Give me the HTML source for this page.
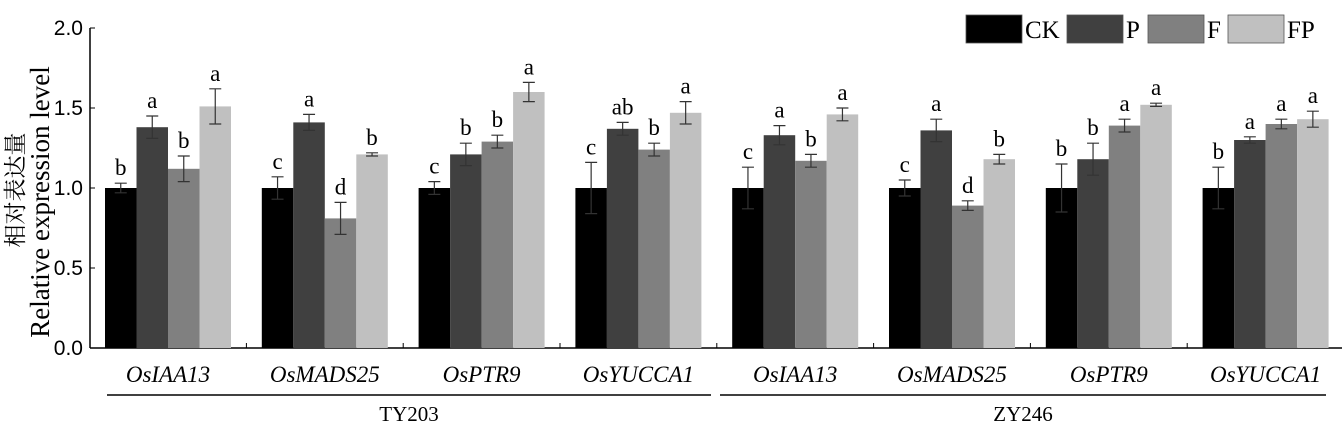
<!DOCTYPE html>
<html><head><meta charset="utf-8"><style>
body{margin:0;background:#fff}
svg text{font-family:"Liberation Serif","Noto Serif CJK SC",serif;fill:#000}
</style></head><body>
<svg id="c" width="1343" height="433" xmlns="http://www.w3.org/2000/svg"></svg>
<script>
const categories=["OsIAA13","OsMADS25","OsPTR9","OsYUCCA1","OsIAA13","OsMADS25","OsPTR9","OsYUCCA1"];
const seriesNames=["CK","P","F","FP"];
const ckVals=[1.0,1.0,1.0,1.0,1.0,1.0,1.0,1.0];
const pVals=[1.38,1.41,1.21,1.37,1.33,1.36,1.18,1.30];
const fVals=[1.12,0.81,1.29,1.24,1.17,0.89,1.39,1.40];
const fpVals=[1.51,1.21,1.60,1.47,1.46,1.18,1.52,1.43];
const ckErr=[0.03,0.07,0.04,0.16,0.13,0.05,0.15,0.13];
const pErr=[0.07,0.05,0.07,0.04,0.06,0.07,0.10,0.02];
const fErr=[0.08,0.10,0.04,0.04,0.04,0.03,0.04,0.03];
const fpErr=[0.11,0.01,0.06,0.07,0.04,0.03,0.01,0.05];
const ckSig=["b","c","c","c","c","c","b","b"];
const pSig=["a","a","b","ab","a","a","b","a"];
const fSig=["b","d","b","b","b","d","a","a"];
const fpSig=["a","b","a","a","a","b","a","a"];
const yTicks=[0.0,0.5,1.0,1.5,2.0];
const groups=["TY203","ZY246"];
const colors=["#000000","#404040","#808080","#c0c0c0"];
const NS="http://www.w3.org/2000/svg";
const svg=document.getElementById('c');
function el(t,a,txt){const e=document.createElementNS(NS,t);for(const k in a)e.setAttribute(k,a[k]);if(txt!==undefined)e.textContent=txt;svg.appendChild(e);return e;}
const y0=348,yTop=28,ymax=2.0,ax=90;
function yS(v){return y0-(v/ymax)*(y0-yTop);}
const bandStart=89.6,bandW=156.8,barW=31.5;
function xBar(g,s){return bandStart+g*bandW+bandW/2-2*barW+s*barW;}
const vals=[ckVals,pVals,fVals,fpVals],errs=[ckErr,pErr,fErr,fpErr],sigs=[ckSig,pSig,fSig,fpSig];
let a=el('line',{x1:ax,y1:y0,x2:1342,y2:y0,stroke:'#000','stroke-width':1.5});

a=el('line',{x1:ax,y1:yTop,x2:ax,y2:y0,stroke:'#000','stroke-width':1.5});

yTicks.forEach(t=>{const y=yS(t);
 let l=el('line',{x1:ax,y1:y,x2:ax+5,y2:y,stroke:'#000','stroke-width':1});
 
 let tx=el('text',{x:83,y:y+7,'text-anchor':'end','font-size':21,style:'font-family:"Liberation Sans",sans-serif'},t.toFixed(1));
 });
for(let g=1;g<categories.length;g++){const x=bandStart+g*bandW;
 let l=el('line',{x1:x,y1:y0,x2:x,y2:y0-5,stroke:'#000','stroke-width':1});
 }
for(let g=0;g<categories.length;g++){
 for(let s=0;s<4;s++){
  const v=vals[s][g],e=errs[s][g],x=xBar(g,s),y=yS(v);
  let r=el('rect',{x:x,y:y,width:barW,height:y0-y,fill:colors[s]});
  
  const cx=x+barW/2,yh=yS(v+e),yl=yS(v-e);
  let eb=el('path',{d:`M${cx},${yh}V${yl}M${cx-6},${yh}H${cx+6}M${cx-6},${yl}H${cx+6}`,stroke:'#333','stroke-width':1.2,fill:'none'});
  
  let st=el('text',{x:cx,y:yh-8,'text-anchor':'middle','font-size':23},sigs[s][g]);
  
 }
 let cl=el('text',{x:bandStart+g*bandW+bandW/2,y:382,'text-anchor':'middle','font-size':23,'font-style':'italic'},categories[g]);
 
}
groups.forEach((gname,i)=>{const x1=i?720:107,x2=i?1326:711;
 let l=el('line',{x1:x1,y1:395,x2:x2,y2:395,stroke:'#000','stroke-width':1.5});
 
 let t=el('text',{x:(x1+x2)/2,y:421,'text-anchor':'middle','font-size':21},gname);
 });
const lx=[966,1067,1148,1228];
seriesNames.forEach((n,i)=>{
 let r=el('rect',{x:lx[i],y:15,width:56,height:28,fill:colors[i],stroke:'#555','stroke-width':0.8});
 
 let t=el('text',{x:lx[i]+59,y:38,'font-size':25},n);
 });
let yt=el('text',{transform:'translate(23,190) rotate(-90)','text-anchor':'middle','font-size':23},'相对表达量');

yt=el('text',{transform:'translate(49,202) rotate(-90)','text-anchor':'middle','font-size':27},'Relative expression level');

</script>
</body></html>
